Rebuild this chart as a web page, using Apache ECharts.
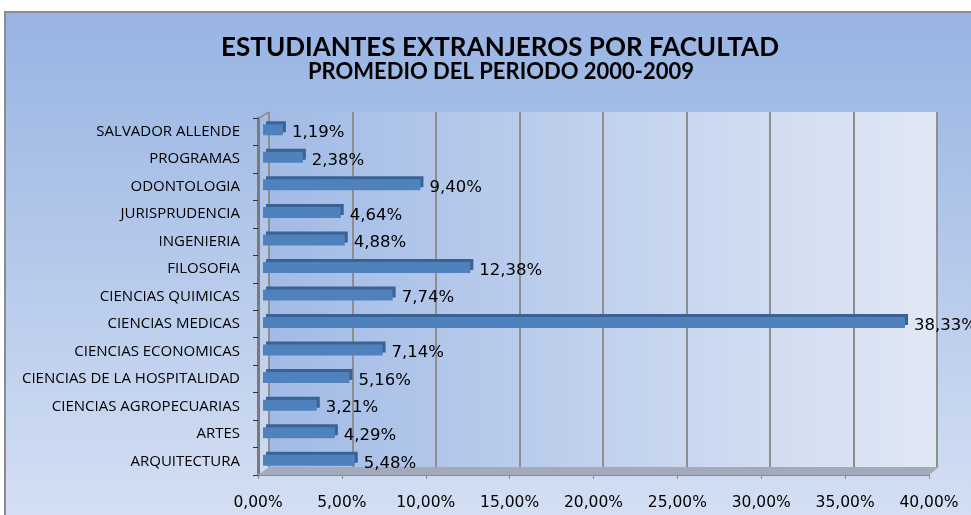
<!DOCTYPE html>
<html>
<head>
<meta charset="utf-8">
<script src="https://cdn.jsdelivr.net/npm/echarts@6/dist/echarts.min.js"></script>
<style>
  html, body { margin: 0; padding: 0; background: #fff; overflow: hidden; }
  #frame {
    position: absolute; left: 4px; top: 11px; width: 1000px; height: 600px;
    border: 2px solid #8c8c8c;
    background: linear-gradient(#98b4e3, #dfe7f6);
  }
  #main { position: absolute; left: 0; top: 0; width: 971px; height: 515px; }
</style>
</head>
<body>
<div id="frame"></div>
<div id="main"></div>
<script>
// facultades, de arriba hacia abajo
var facultades = [
  'SALVADOR ALLENDE', 'PROGRAMAS', 'ODONTOLOGIA', 'JURISPRUDENCIA', 'INGENIERIA',
  'FILOSOFIA', 'CIENCIAS QUIMICAS', 'CIENCIAS MEDICAS', 'CIENCIAS ECONOMICAS',
  'CIENCIAS DE LA HOSPITALIDAD', 'CIENCIAS AGROPECUARIAS', 'ARTES', 'ARQUITECTURA'
];
var porcentajes = [1.19, 2.38, 9.40, 4.64, 4.88, 12.38, 7.74, 38.33, 7.14, 5.16, 3.21, 4.29, 5.48];
var ejeMin = 0, ejeMax = 40, ejePaso = 5;

function fmt(v) {
  return v.toFixed(2).replace('.', ',') + '%';
}

var chart = echarts.init(document.getElementById('main'));

var option = {
  backgroundColor: 'transparent',
  animation: false,
  title: [{
    text: 'ESTUDIANTES EXTRANJEROS POR FACULTAD',
    left: 495, top: 30, textAlign: 'center',
    textStyle: { fontFamily: 'Lato', fontWeight: 'bold', fontSize: 26, color: '#000' }
  }, {
    text: 'PROMEDIO DEL PERIODO 2000-2009',
    left: 496, top: 56, textAlign: 'center',
    textStyle: { fontFamily: 'Lato', fontWeight: 'bold', fontSize: 22, color: '#000' }
  }],
  grid: [
    // pared del fondo
    { left: 269, right: 34, top: 112, bottom: 48, show: true, borderWidth: 0,
      backgroundColor: new echarts.graphic.LinearGradient(0, 0, 1, 0, [
        { offset: 0, color: '#a2bbe6' }, { offset: 1, color: '#e1e8f5' }
      ]) },
    // ejes del frente
    { left: 258, right: 42, top: 118, bottom: 40 },
    // barras
    { left: 263, right: 38, top: 116, bottom: 41 }
  ],
  xAxis: [{
    gridIndex: 0, type: 'value', min: ejeMin, max: ejeMax, interval: ejePaso,
    axisLabel: { show: false }, axisLine: { show: false }, axisTick: { show: false },
    splitLine: { show: true, lineStyle: { color: '#8e8e8e', width: 2 } }
  }, {
    gridIndex: 1, type: 'value', min: ejeMin, max: ejeMax, interval: ejePaso,
    axisLine: { show: true, lineStyle: { color: '#8a8a8a', width: 2 } },
    axisTick: { show: true, length: 4, lineStyle: { color: '#8a8a8a' } },
    axisLabel: { formatter: fmt, fontFamily: 'DejaVu Sans', fontSize: 15.5, color: '#000', margin: 20 },
    splitLine: { show: false }
  }, {
    gridIndex: 2, type: 'value', min: ejeMin, max: ejeMax, show: false
  }],
  yAxis: [{
    gridIndex: 0, type: 'category', data: facultades, inverse: true, show: false
  }, {
    gridIndex: 1, type: 'category', data: facultades, inverse: true,
    axisLine: { show: true, lineStyle: { color: '#7a7a7a', width: 3 } },
    axisTick: { show: true, length: 5, lineStyle: { color: '#333' } },
    axisLabel: { fontFamily: 'Open Sans', fontSize: 15, color: '#000', margin: 18 }
  }, {
    gridIndex: 2, type: 'category', data: facultades, inverse: true, show: false
  }],
  graphic: [{
    type: 'polygon', z: 1,
    shape: { points: [[258, 475], [929, 475], [939, 467], [269, 467]] },
    style: { fill: '#a2aabb' }
  }, {
    type: 'polyline', z: 1,
    shape: { points: [[259, 118], [269, 112]] },
    style: { stroke: '#8e8e8e', lineWidth: 1.5 }
  }],
  series: [{
    type: 'bar',
    xAxisIndex: 2, yAxisIndex: 2,
    data: porcentajes,
    barWidth: 11,
    z: 5,
    itemStyle: {
      color: '#4f81bd',
      shadowColor: '#3a6294',
      shadowBlur: 0,
      shadowOffsetX: 3,
      shadowOffsetY: -3
    },
    label: {
      show: true, position: 'right', distance: 9, offset: [0, 3],
      formatter: function (p) { return fmt(p.value); },
      fontFamily: 'DejaVu Sans', fontSize: 16.5, color: '#000'
    }
  }]
};

chart.setOption(option);
</script>
</body>
</html>
